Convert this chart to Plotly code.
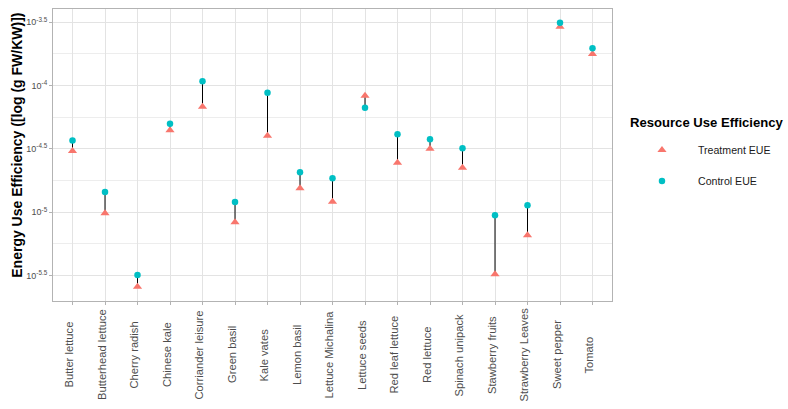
import plotly.graph_objects as go

categories = ["Butter lettuce", "Butterhead lettuce", "Cherry radish", "Chinese kale",
              "Corriander leisure", "Green basil", "Kale vates", "Lemon basil",
              "Lettuce Michalina", "Lettuce seeds", "Red leaf lettuce", "Red lettuce",
              "Spinach unipack", "Stawberry fruits", "Strawberry Leaves", "Sweet pepper",
              "Tomato"]
# log10 of EUE values
treatment_log = [-4.516, -5.007, -5.587, -4.352, -4.166, -5.079, -4.395, -4.810,
                 -4.916, -4.079, -4.608, -4.498, -4.648, -5.489, -5.181, -3.535, -3.750]
control_log = [-4.434, -4.839, -5.494, -4.300, -3.966, -4.918, -4.056, -4.684,
               -4.731, -4.174, -4.384, -4.423, -4.494, -5.023, -4.944, -3.503, -3.705]
ytick_exps = ["-5.5", "-5", "-4.5", "-4", "-3.5"]

treatment = [10 ** v for v in treatment_log]
control = [10 ** v for v in control_log]

FONT = "Liberation Sans, Arial, sans-serif"

fig = go.Figure()

# connecting segments
seg_x, seg_y = [], []
for c, t, k in zip(categories, treatment, control):
    seg_x += [c, c, None]
    seg_y += [t, k, None]
fig.add_trace(go.Scatter(x=seg_x, y=seg_y, mode="lines",
                         line=dict(color="black", width=1), showlegend=False,
                         hoverinfo="skip"))

fig.add_trace(go.Scatter(x=categories, y=treatment, mode="markers", name="Treatment EUE",
                         marker=dict(symbol="triangle-up", size=8, color="#F8766D"),
                         legendgroup="t"))
fig.add_trace(go.Scatter(x=categories, y=control, mode="markers", name="Control EUE",
                         marker=dict(symbol="circle", size=6.5, color="#00BFC4"),
                         legendgroup="c"))

# centered rotated category labels
for c in categories:
    fig.add_annotation(x=c, y=-0.185, xref="x", yref="paper", text=c, textangle=-90,
                       showarrow=False, xanchor="center", yanchor="middle", xshift=-3,
                       font=dict(family=FONT, size=11.2, color="#4D4D4D"))

# y axis title
fig.add_annotation(x=-0.065, y=0.534, xref="paper", yref="paper",
                   text="<b>Energy Use Efficiency ([log (g FW/KW)])</b>", textangle=-90,
                   showarrow=False, xanchor="center", yanchor="middle",
                   font=dict(family=FONT, size=14.0, color="black"))

# legend title
fig.add_annotation(x=1.0286, y=0.6106, xref="paper", yref="paper",
                   text="<b>Resource Use Efficiency</b>", showarrow=False,
                   xanchor="left", yanchor="middle",
                   font=dict(family=FONT, size=13.1, color="black"))

grid = "#E3E3E3"
fig.update_layout(
    width=788, height=409,
    margin=dict(l=53, r=176, t=9, b=108),
    paper_bgcolor="white", plot_bgcolor="white",
    font=dict(family=FONT, color="#4D4D4D"),
    xaxis=dict(
        categoryorder="array", categoryarray=categories,
        range=[-0.6, len(categories) - 0.4],
        showticklabels=False, showgrid=True, gridcolor=grid, gridwidth=1,
        ticks="outside", ticklen=3, tickcolor="#B3B3B3",
        showline=True, linecolor="#B3B3B3", mirror=True, zeroline=False,
    ),
    yaxis=dict(
        type="log", range=[-5.70, -3.395],
        tickvals=[10 ** float(e) for e in ytick_exps],
        ticktext=["10<sup>%s</sup>" % e for e in ytick_exps],
        tickfont=dict(family=FONT, size=9, color="#4D4D4D"),
        showgrid=True, gridcolor=grid, gridwidth=1,
        minor=dict(tickvals=[10 ** (float(e) + 0.25) for e in ytick_exps] + [10 ** -5.75],
                   showgrid=True, gridcolor="#EDEDED", gridwidth=1, ticks=""),
        ticks="outside", ticklen=3, tickcolor="#B3B3B3",
        showline=True, linecolor="#B3B3B3", mirror=True, zeroline=False,
    ),
    legend=dict(
        x=1.025, xanchor="left", y=0.567, yanchor="top",
        font=dict(family=FONT, size=10.6, color="#1A1A1A"),
        tracegroupgap=12, itemwidth=62, bgcolor="rgba(0,0,0,0)",
    ),
)

fig.write_html("out.html",
               config={"displayModeBar": False},
               post_script="document.body.style.margin='0';document.body.style.overflow='hidden';")
